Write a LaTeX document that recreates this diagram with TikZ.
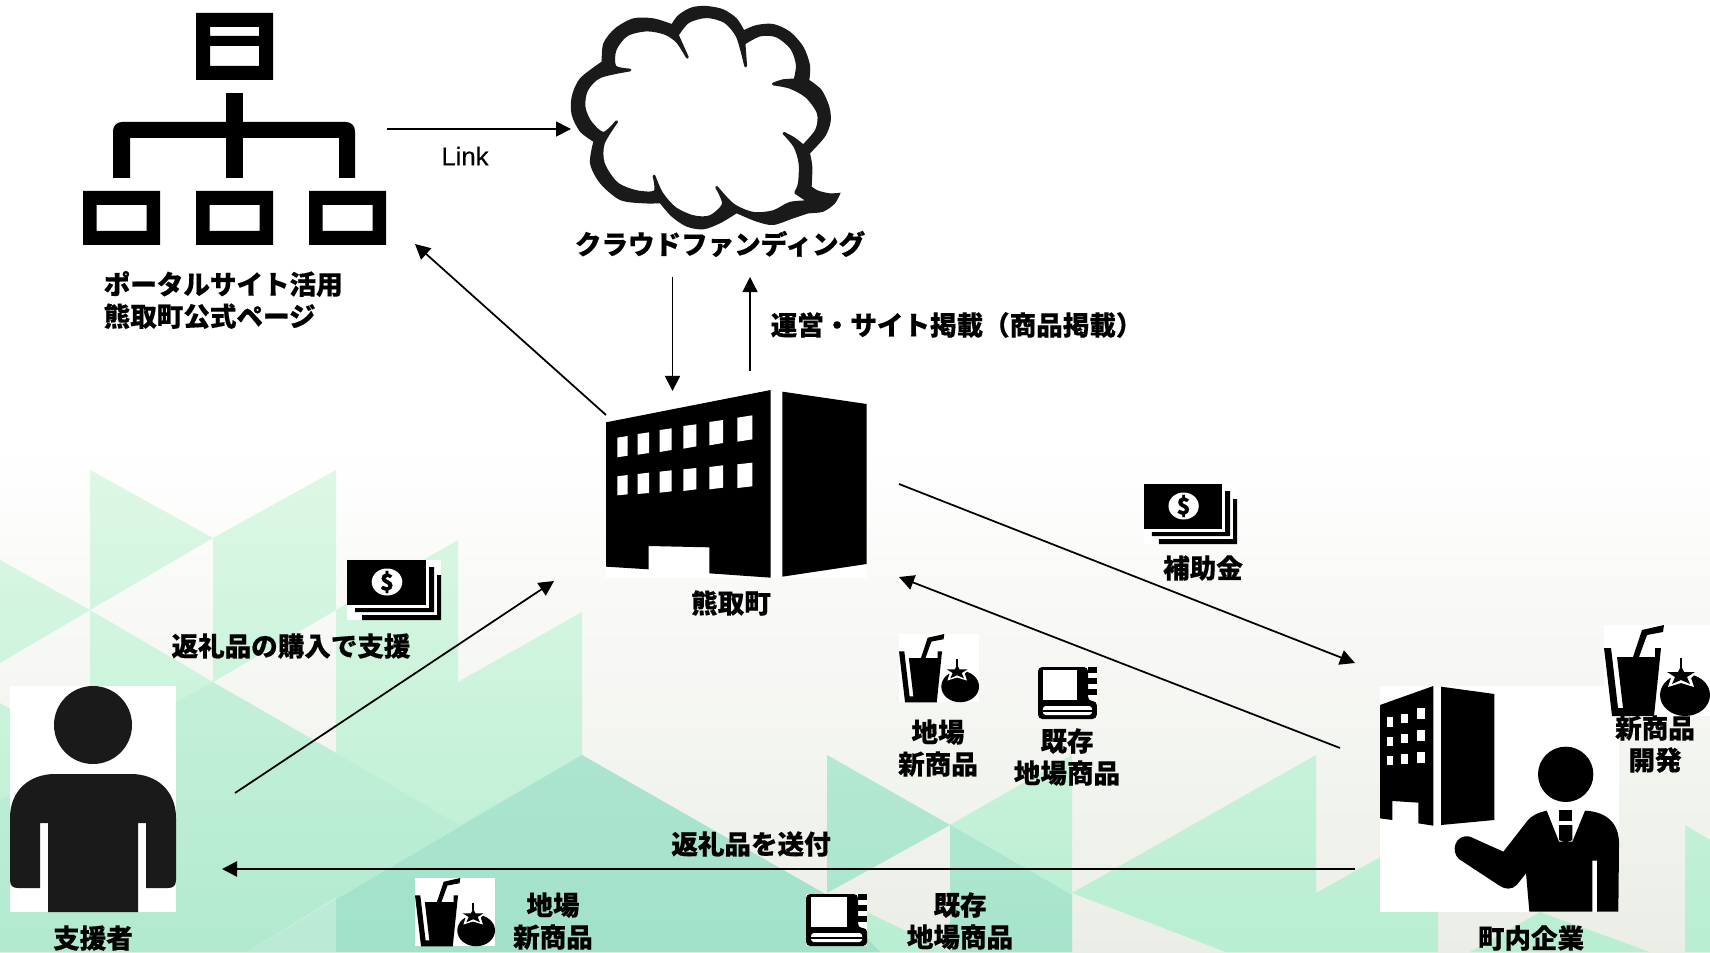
\documentclass[tikz,border=0pt]{standalone}
\usepackage{fontspec}
\setmainfont{Noto Sans CJK JP}[BoldFeatures={FakeBold=.4}]
\newfontfamily\linkfont{Liberation Sans}[FakeBold=.2]
\usetikzlibrary{arrows.meta}

\definecolor{inkblack}{HTML}{1A1A1A}
\definecolor{bgbottom}{HTML}{EBEEE6}
\definecolor{greentop}{HTML}{DDF8E5}
\definecolor{greenlow}{HTML}{B8EED2}
\definecolor{tealover}{HTML}{7CCDBE}

\tikzset{
  % bank notes, 94 x 60
  moneyicon/.pic={
    \fill[white] (0,0) rectangle (94,60);
    \fill (0,0) rectangle (79,45);
    \fill[white] (40,22) ellipse (15.3 and 13.5);
    \node[font=\bfseries\fontsize{6.5}{6.5}\selectfont, inner sep=0pt] at (40,22) {\$};
    \fill (82,7) -- (87,7) -- (87,52) -- (8,52) -- (8,48) -- (82,48) -- cycle;
    \fill (90,15) -- (94,15) -- (94,60) -- (15,60) -- (15,55) -- (90,55) -- cycle;
  },
  % glass and tomato, 106 x 91
  drinkicon/.pic={
    \fill[white] (0,0) rectangle (106,91);
    \fill (0,23) -- (7,23) -- (14,83) -- (19,83) -- (13,32) -- (29,32) -- (38,5) -- (60,0) -- (59,7) -- (43,10) -- (35,32)
      -- (51,32) -- (51,23) -- (57,23) -- (50,91) -- (8,91) -- cycle;
    \fill (81,70) ellipse (25 and 21);
    \fill[white] (77,36) -- (82,44) -- (96,44) -- (87,53) -- (90,62) -- (77,58) -- (64,62) -- (67,53) -- (58,44) -- (72,44) -- cycle;
    \fill (77,41) -- (80,47) -- (91,47) -- (83,52) -- (86,59) -- (77,55) -- (68,59) -- (71,52) -- (63,47) -- (74,47) -- cycle;
    \fill (76,33) rectangle (78,43);
  },
  % ring book, 60 x 52
  bookicon/.pic={
    \fill[white] (0,0) rectangle (60,52);
    \fill[rounded corners=1.2pt] (0,0) -- (51,0) -- (51,34) -- (60,34) -- (60,52) -- (0,52) -- cycle;
    \foreach \ty in {0,11,22} {
      \fill (51,\ty) rectangle (60,\ty+6);
    }
    \fill[white] (5,3) rectangle (40,33);
    \fill[white, rounded corners=.8pt] (5,39) rectangle (55,48);
    \fill (5,43) rectangle (55,44.5);
  }
}

\begin{document}
\begin{tikzpicture}[x=0.01cm, y=-0.01cm]
  \tikzstyle{lbl} = [font=\bfseries\fontsize{7.55}{9.1}\selectfont, align=center, inner sep=0pt]
  \tikzstyle{link} = [-{Triangle[length=.15cm, width=.15cm]}, line width=.5pt]
  \useasboundingbox (0,0) rectangle (1710,952);

  % Background
  \fill[white] (0,0) rectangle (1710,952);
  \shade[top color=white, bottom color=bgbottom] (0,440) rectangle (1710,952);
  \shade[top color=greentop, bottom color=greenlow]
    (90,470) -- (213,538) -- (90,610) -- cycle
    (213,538) -- (336,470) -- (336,610) -- (213,682) -- cycle
    (0,560) -- (90,610) -- (0,663) -- cycle
    (0,703) -- (90,753) -- (90,610) -- (213,682) -- (336,753) -- (336,610) -- (458,540) -- (458,682) -- (582,612)
      -- (582,755) -- (827,895) -- (880,952) -- (0,952) -- cycle
    (827,755) -- (950,825) -- (827,893) -- cycle
    (827,893) -- (950,952) -- (827,952) -- cycle
    (950,825) -- (1072,755) -- (1072,952) -- (950,952) -- cycle
    (1072,893) -- (1316,755) -- (1316,952) -- (1226,952) -- cycle
    (1316,893) -- (1438,825) -- (1438,952) -- (1316,952) -- cycle
    (1540,912) -- (1470,952) -- (1650,952) -- cycle
    (1685,825) -- (1710,840) -- (1710,952) -- (1685,952) -- cycle;
  \fill[tealover, fill opacity=.1]
    (213,682) -- (336,753) -- (459,825) -- (582,755) -- (827,895) -- (880,952) -- (0,952) -- (0,800) -- cycle;
  \fill[tealover, fill opacity=.28]
    (950,825) -- (1072,895) -- (1072,952) -- (950,952) -- cycle;
  \fill[tealover, fill opacity=.25] (827,755) -- (950,825) -- (827,893) -- cycle;
  \fill[tealover, fill opacity=.28] (582,755) -- (247,952) -- (880,952) -- (827,895) -- cycle;
  \fill[greenlow!60!white, fill opacity=.5] (247,952) -- (336,897) -- (336,952) -- cycle;

  % Portal site tree
  \fill[even odd rule] (196,13) rectangle (273,80) (210,27) rectangle (259,36) (210,46) rectangle (259,66);
  \fill (226,93) rectangle (243,178);
  \fill (113,178) [rounded corners=2.5pt] -- (113,122) -- (355,122) [sharp corners] -- (355,178) -- (339,178) -- (339,138) -- (130,138) -- (130,178) -- cycle;
  \foreach \bx in {83,196,309} {
    \fill[even odd rule] (\bx,191) rectangle (\bx+77,245) (\bx+13.5,205) rectangle (\bx+63.5,231);
  }

  % Cloud
  \begin{scope}[shift={(560,0)}, x=0.01cm/3, y=-0.01cm/3]
    \fill[inkblack]
      plot[smooth] coordinates {(335,72) (355,45) (395,22) (440,18) (490,28) (530,55) (552,90)}
      -- plot[smooth] coordinates {(552,90) (590,75) (640,72) (690,95) (730,140) (750,195) (748,240)}
      -- plot[smooth] coordinates {(748,240) (785,270) (808,320) (812,365) (795,410) (750,460)}
      -- plot[smooth] coordinates {(750,460) (757,500) (755,560)}
      -- plot[smooth] coordinates {(755,560) (775,572) (810,580) (842,578)}
      -- plot[smooth] coordinates {(842,578) (825,610) (790,635) (745,640)}
      -- plot[smooth] coordinates {(745,640) (700,655) (640,675) (590,665) (530,640)}
      -- plot[smooth] coordinates {(530,640) (480,670) (430,688) (380,680) (335,650) (300,610)}
      -- plot[smooth] coordinates {(300,610) (250,610) (180,600) (120,550) (90,490) (100,425)}
      -- plot[smooth] coordinates {(100,425) (60,395) (35,345) (35,290) (60,235) (125,185)}
      -- plot[smooth] coordinates {(125,185) (130,130) (165,85) (220,55) (280,55) (335,72)} -- cycle;
    \filldraw[fill=white, draw=inkblack, line width=.8pt, line join=round]
      plot[smooth] coordinates {(352,105) (385,65) (440,50) (495,65) (530,105) (545,150) (557,198)}
      -- plot[smooth] coordinates {(557,198) (552,130)}
      -- plot[smooth] coordinates {(552,130) (600,105) (650,108) (695,145) (712,195) (705,240)}
      -- plot[smooth] coordinates {(705,240) (670,242) (640,252)}
      -- plot[smooth] coordinates {(640,252) (690,262) (740,290) (775,340) (770,390) (730,438)}
      -- plot[smooth] coordinates {(730,438) (700,415) (672,400)}
      -- plot[smooth] coordinates {(672,400) (705,440) (720,490) (718,550) (707,578)}
      -- (748,605)
      -- plot[smooth] coordinates {(748,605) (690,610) (640,635) (580,640) (520,615) (470,562)}
      -- plot[smooth] coordinates {(470,562) (490,612) (450,650) (400,650) (345,625) (305,580) (282,528)}
      -- plot[smooth] coordinates {(282,528) (285,575) (230,575) (170,550) (130,490) (130,430) (170,365)}
      -- plot[smooth] coordinates {(170,365) (130,400) (90,365) (72,320) (80,270) (120,230) (210,210)}
      -- plot[smooth] coordinates {(210,210) (165,200) (165,150) (200,105) (260,90) (315,100) (352,125) (382,172)}
      -- cycle;
  \end{scope}

  % Town hall
  \fill[white] (606,390) rectangle (867,578);
  \begin{scope}[shift={(560,360)}, x=0.01cm/3, y=-0.01cm/3]
    \fill (138,187) -- (632,90) -- (632,653) -- (448,640) -- (448,562) -- (266,558) -- (266,628) -- (138,620) -- cycle;
    \fill (667,95) -- (920,132) -- (920,612) -- (667,650) -- cycle;
    \foreach \wa/\wb/\ta/\tb/\ua/\ub in {172/203/233/228/292/287, 233/267/222/217/284/279, 299/335/210/205/276/270,
        370/409/198/193/266/259, 448/489/186/180/256/249, 532/577/173/166/245/238,
        172/203/349/345/406/403, 233/267/342/338/402/399, 299/335/335/331/398/394,
        370/409/328/324/393/388, 448/489/321/316/388/383, 532/577/313/308/384/379} {
      \fill[white] (\wa,\ta) -- (\wb,\tb) -- (\wb,\ub) -- (\wa,\ua) -- cycle;
    }
  \end{scope}

  % Supporter
  \fill[white] (10,686) rectangle (176,912);
  \fill[inkblack] (93,725) ellipse (39 and 39);
  \fill[inkblack] (10,880) -- (10,818) .. controls (10,790) and (30,774) .. (55,774) -- (131,774)
    .. controls (156,774) and (176,790) .. (176,818) -- (176,880) .. controls (176,886) and (173,888) .. (168,888) -- (146,888) -- (146,823) -- (138,823) -- (138,912)
    -- (48,912) -- (48,823) -- (40,823) -- (40,888) -- (18,888) .. controls (13,888) and (10,886) .. (10,880) -- cycle;

  % Company and businessman
  \fill[white] (1380,686) rectangle (1619,912);
  \begin{scope}[shift={(1370,620)}, x=0.01cm/3, y=-0.01cm/3]
    \fill (30,255) -- (190,198) -- (190,617) -- (145,610) -- (145,548) -- (67,543) -- (67,600) -- (30,595) -- cycle;
    \fill (213,200) -- (373,222) -- (373,600) -- (213,615) -- cycle;
    \foreach \wa/\wb/\ya/\yb in {50/70/292/320, 93/115/281/310, 140/166/264/298, 50/70/350/378, 93/115/341/368,
        140/166/331/362, 50/70/409/436, 93/115/403/432, 140/166/396/428} {
      \fill[white] (\wa,\ya) rectangle (\wb,\yb);
    }
    \fill (587,463) circle (83);
    \fill (530,572) -- (567,665) -- (607,665) -- (645,572) .. controls (710,575) and (747,610) .. (747,670) -- (745,875)
      -- (681,875) -- (681,722) -- (667,722) -- (667,875) -- (478,875) -- (468,760) -- (440,795)
      .. controls (425,810) and (405,808) .. (390,798) -- (268,718) .. controls (240,695) and (255,640) .. (300,650)
      -- (400,695) -- (470,605) .. controls (485,585) and (505,578) .. (530,572) -- cycle;
    \fill (567,570) rectangle (607,602);
    \fill (567,615) -- (607,615) -- (607,660) -- (587,668) -- (567,660) -- cycle;
  \end{scope}

  % Small icons
  \pic at (347,560) {moneyicon};
  \pic[xscale=.99] at (1144,484) {moneyicon};
  \pic[xscale=.755, yscale=.75] at (899,634) {drinkicon};
  \pic[xscale=.755, yscale=.75] at (415,878) {drinkicon};
  \pic at (1604,625) {drinkicon};
  \pic[xscale=.98] at (1038,667) {bookicon};
  \pic[xscale=1.02] at (806,894) {bookicon};

  % Define nodes
  \node[lbl, anchor=west, align=left] (portal) at (103,300) {ポータルサイト活用\\熊取町公式ページ};
  \node[lbl] (cloud) at (720,244) {クラウドファンディング};
  \node[lbl, anchor=west] (unei) at (770,325) {運営・サイト掲載（商品掲載）};
  \node[lbl] (town) at (731,603) {熊取町};
  \node[lbl] (buy) at (291,646) {返礼品の購入で支援};
  \node[lbl] (supporter) at (93,938) {支援者};
  \node[lbl] (subsidy) at (1203,568) {補助金};
  \node[lbl] (newup) at (938,748) {地場\\新商品};
  \node[lbl] (oldup) at (1067,757) {既存\\地場商品};
  \node[lbl] (develop) at (1655,744) {新商品\\開発};
  \node[lbl] (send) at (751,844) {返礼品を送付};
  \node[lbl] (newlow) at (553,921) {地場\\新商品};
  \node[lbl] (oldlow) at (960,921) {既存\\地場商品};
  \node[lbl] (company) at (1531,938) {町内企業};
  \node[font=\linkfont\fontsize{7.3}{8}\selectfont, inner sep=0pt] (linklbl) at (465,156) {Link};

  % Connector ends
  \coordinate (siteE) at (387,129);
  \coordinate (cloudW) at (571,129);
  \coordinate (cloudS) at (672.5,277);
  \coordinate (townN) at (672.5,391);
  \coordinate (townU) at (750,371);
  \coordinate (cloudU) at (750,277);
  \coordinate (townW) at (606,415);
  \coordinate (siteS) at (415,244);
  \coordinate (suppE) at (235,793);
  \coordinate (townS) at (554,581);
  \coordinate (townE) at (899,484);
  \coordinate (compN) at (1355,663);
  \coordinate (compW) at (1340,748);
  \coordinate (townR) at (899,577);
  \coordinate (compL) at (1355,869);
  \coordinate (suppR) at (222,869);

  \draw[link] (siteE) -- (cloudW);
  \draw[link] (cloudS) -- (townN);
  \draw[link, line width=.35pt] (townU) -- (cloudU);
  \draw[link] (townW) -- (siteS);
  \draw[link] (suppE) -- (townS);
  \draw[link] (townE) -- (compN);
  \draw[link] (compW) -- (townR);
  \draw[link, line width=.7pt] (compL) -- (suppR);
\end{tikzpicture}
\end{document}
